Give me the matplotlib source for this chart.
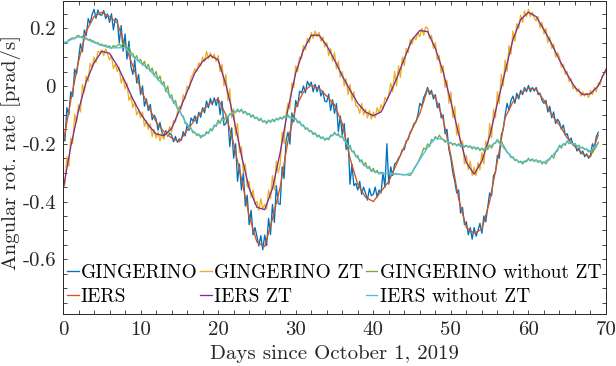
import numpy as np
import matplotlib
matplotlib.use("Agg")
import matplotlib.pyplot as plt

# IERS values, one per day (prad/s)
iers = [-0.20, -0.05, 0.085, 0.19, 0.24, 0.255, 0.24, 0.218, 0.14, 0.07,
        -0.01, -0.07, -0.124, -0.158, -0.18, -0.193, -0.153, -0.118, -0.085, -0.058,
        -0.045, -0.10, -0.20, -0.32, -0.45, -0.54, -0.556, -0.46, -0.35, -0.19,
        -0.075, -0.02, 0.003, -0.008, -0.035, -0.065, -0.13, -0.25, -0.34, -0.385,
        -0.40, -0.365, -0.33, -0.27, -0.21, -0.15, -0.095, -0.012, -0.04, -0.115,
        -0.24, -0.39, -0.49, -0.51, -0.495, -0.40, -0.26, -0.11, -0.055, -0.025,
        -0.008, -0.012, -0.05, -0.10, -0.135, -0.18, -0.21, -0.235, -0.245, -0.17]

iers_zt = [-0.36, -0.21, -0.085, 0.015, 0.08, 0.12, 0.113, 0.07, 0.015, -0.045,
           -0.095, -0.135, -0.166, -0.172, -0.147, -0.085, -0.02, 0.045, 0.085, 0.106,
           0.09, 0.005, -0.11, -0.24, -0.355, -0.42, -0.428, -0.355, -0.23, -0.08,
           0.045, 0.125, 0.175, 0.176, 0.14, 0.09, 0.035, -0.014, -0.06, -0.09,
           -0.103, -0.09, -0.035, 0.025, 0.095, 0.16, 0.192, 0.188, 0.13, 0.05,
           -0.055, -0.165, -0.265, -0.305, -0.26, -0.175, -0.06, 0.05, 0.16, 0.23,
           0.255, 0.24, 0.195, 0.145, 0.09, 0.04, -0.005, -0.03, -0.027, 0.0, 0.058]

iers_no_zt = [0.145, 0.16, 0.17, 0.162, 0.15, 0.14, 0.132, 0.132, 0.133, 0.102,
              0.08, 0.06, 0.03, 0.0, -0.045, -0.085, -0.135, -0.163, -0.175, -0.155,
              -0.128, -0.11, -0.09, -0.085, -0.098, -0.112, -0.124, -0.12, -0.112, -0.107,
              -0.115, -0.14, -0.158, -0.175, -0.185, -0.165, -0.178, -0.215, -0.25, -0.278,
              -0.295, -0.303, -0.303, -0.305, -0.308, -0.30, -0.255, -0.213, -0.18, -0.185,
              -0.198, -0.205, -0.208, -0.213, -0.22, -0.21, -0.19, -0.22, -0.25, -0.265,
              -0.255, -0.258, -0.265, -0.245, -0.21, -0.195, -0.203, -0.215, -0.225, -0.197]

# GINGERINO values, four per day (prad/s)
gingerino = [
    -0.18, -0.19, -0.075, -0.10,
    -0.02, -0.036, 0.058, 0.041,
    0.095, 0.146, 0.118, 0.194,
    0.175, 0.233, 0.215, 0.248,
    0.265, 0.234, 0.263, 0.246,
    0.245, 0.261, 0.233, 0.249,
    0.22, 0.25, 0.194, 0.234,
    0.228, 0.149, 0.209, 0.12,
    0.18, 0.093, 0.155, 0.068,
    0.04, 0.09, 0.01, 0.04,
    -0.03, 0.0, -0.07, -0.045,
    -0.085, -0.064, -0.117, -0.101,
    -0.114, -0.153, -0.126, -0.16,
    -0.173, -0.154, -0.174, -0.163,
    -0.17, -0.193, -0.175, -0.195,
    -0.183, -0.188, -0.158, -0.173,
    -0.133, -0.154, -0.111, -0.122,
    -0.103, -0.13, -0.091, -0.108,
    -0.075, -0.093, -0.052, -0.075,
    -0.043, -0.065, -0.041, -0.068,
    -0.04, -0.099, -0.053, -0.136,
    -0.13, -0.105, -0.21, -0.145,
    -0.25, -0.20, -0.33, -0.27,
    -0.36, -0.30, -0.415, -0.378,
    -0.48, -0.43, -0.515, -0.49,
    -0.52, -0.554, -0.518, -0.567,
    -0.516, -0.552, -0.458, -0.514,
    -0.41, -0.472, -0.345, -0.407,
    -0.41, -0.28, -0.32, -0.19,
    -0.16, -0.201, -0.093, -0.124,
    -0.05, -0.071, -0.018, -0.024,
    0.0, -0.024, 0.016, 0.002,
    0.013, -0.02, 0.006, -0.02,
    0.002, -0.035, -0.017, -0.053,
    -0.055, -0.028, -0.085, -0.048,
    -0.095, -0.061, -0.158, -0.104,
    -0.17, -0.13, -0.22, -0.18,
    -0.34, -0.272, -0.345, -0.337,
    -0.36, -0.33, -0.375, -0.35,
    -0.37, -0.395, -0.355, -0.38,
    -0.375, -0.35, -0.385, -0.36,
    -0.37, -0.30, -0.35, -0.20,
    -0.34, -0.28, -0.31, -0.27,
    -0.265, -0.25, -0.24, -0.22,
    -0.22, -0.19, -0.185, -0.16,
    -0.15, -0.13, -0.125, -0.10,
    -0.06, -0.07, -0.04, -0.025,
    -0.005, -0.03, -0.015, -0.045,
    -0.03, -0.075, -0.06, -0.11,
    -0.10, -0.165, -0.15, -0.22,
    -0.25, -0.30, -0.33, -0.37,
    -0.36, -0.44, -0.42, -0.48,
    -0.47, -0.515, -0.49, -0.53,
    -0.49, -0.52, -0.50, -0.475,
    -0.51, -0.45, -0.47, -0.42,
    -0.37, -0.38, -0.31, -0.30,
    -0.24, -0.25, -0.17, -0.15,
    -0.10, -0.06, -0.085, -0.05,
    -0.035, -0.06, -0.025, -0.045,
    -0.015, -0.03, -0.005, -0.02,
    0.002, -0.02, -0.005, -0.018,
    -0.005, -0.03, -0.025, -0.05,
    -0.06, -0.05, -0.09, -0.07,
    -0.11, -0.09, -0.13, -0.115,
    -0.125, -0.15, -0.135, -0.17,
    -0.165, -0.19, -0.18, -0.205,
    -0.20, -0.225, -0.215, -0.235,
    -0.225, -0.245, -0.235, -0.25,
    -0.24, -0.20, -0.215, -0.175,
    -0.16,
]

gingerino_zt = [
    -0.35, -0.342, -0.245, -0.278,
    -0.18, -0.199, -0.098, -0.126,
    -0.065, -0.09, 0.005, -0.02,
    0.035, 0.016, 0.078, 0.064,
    0.10, 0.08, 0.12, 0.115,
    0.125, 0.105, 0.128, 0.11,
    0.09, 0.105, 0.06, 0.075,
    0.05, 0.065, 0.01, 0.03,
    -0.01, 0.01, -0.05, -0.035,
    -0.075, -0.055, -0.10, -0.085,
    -0.11, -0.09, -0.14, -0.12,
    -0.15, -0.13, -0.175, -0.15,
    -0.18, -0.16, -0.19, -0.165,
    -0.185, -0.16, -0.17, -0.14,
    -0.16, -0.12, -0.125, -0.09,
    -0.07, -0.08, -0.03, -0.045,
    0.0, -0.01, 0.03, 0.04,
    0.06, 0.05, 0.08, 0.07,
    0.10, 0.085, 0.12, 0.095,
    0.115, 0.095, 0.11, 0.085,
    0.105, 0.05, 0.075, 0.0,
    0.04, -0.05, -0.01, -0.11,
    -0.08, -0.17, -0.13, -0.23,
    -0.21, -0.30, -0.27, -0.35,
    -0.33, -0.385, -0.36, -0.41,
    -0.40, -0.43, -0.39, -0.425,
    -0.41, -0.425, -0.36, -0.39,
    -0.31, -0.36, -0.26, -0.30,
    -0.27, -0.16, -0.20, -0.10,
    -0.06, -0.08, 0.01, -0.005,
    0.07, 0.05, 0.10, 0.095,
    0.14, 0.125, 0.165, 0.15,
    0.185, 0.165, 0.19, 0.17,
    0.185, 0.155, 0.17, 0.135,
    0.15, 0.105, 0.13, 0.085,
    0.115, 0.06, 0.085, 0.03,
    0.05, 0.0, 0.025, -0.03,
    0.005, -0.05, -0.02, -0.07,
    -0.07, -0.095, -0.06, -0.10,
    -0.08, -0.11, -0.085, -0.115,
    -0.09, -0.11, -0.075, -0.095,
    -0.065, -0.08, -0.04, -0.05,
    -0.03, 0.01, -0.02, 0.05,
    0.0, 0.07, 0.03, 0.10,
    0.07, 0.13, 0.115, 0.16,
    0.145, 0.17, 0.16, 0.185,
    0.17, 0.20, 0.175, 0.205,
    0.20, 0.165, 0.175, 0.13,
    0.15, 0.09, 0.105, 0.045,
    0.07, -0.005, 0.02, -0.06,
    -0.02, -0.11, -0.07, -0.17,
    -0.13, -0.21, -0.19, -0.27,
    -0.24, -0.29, -0.26, -0.31,
    -0.28, -0.31, -0.265, -0.29,
    -0.23, -0.27, -0.19, -0.22,
    -0.13, -0.18, -0.08, -0.11,
    -0.02, -0.06, 0.04, 0.0,
    0.09, 0.05, 0.14, 0.11,
    0.19, 0.155, 0.215, 0.20,
    0.245, 0.22, 0.26, 0.24,
    0.265, 0.24, 0.255, 0.235,
    0.225, 0.24, 0.20, 0.22,
    0.18, 0.20, 0.15, 0.17,
    0.13, 0.145, 0.10, 0.115,
    0.10, 0.065, 0.075, 0.04,
    0.05, 0.015, 0.025, -0.01,
    0.0, -0.02, -0.01, -0.035,
    -0.02, -0.035, -0.025, -0.04,
    -0.015, -0.03, -0.005, -0.02,
    0.01, 0.005, 0.035, 0.04,
    0.055,
]

gingerino_no_zt = [
    0.148, 0.152, 0.15, 0.16,
    0.163, 0.167, 0.163, 0.172,
    0.175, 0.168, 0.172, 0.165,
    0.166, 0.16, 0.161, 0.156,
    0.155, 0.148, 0.15, 0.142,
    0.145, 0.139, 0.142, 0.136,
    0.138, 0.13, 0.14, 0.135,
    0.14, 0.145, 0.137, 0.148,
    0.14, 0.128, 0.135, 0.115,
    0.112, 0.095, 0.105, 0.084,
    0.092, 0.072, 0.085, 0.06,
    0.075, 0.05, 0.062, 0.035,
    0.05, 0.02, 0.035, 0.005,
    0.015, -0.02, 0.0, -0.04,
    -0.03, -0.06, -0.05, -0.08,
    -0.078, -0.10, -0.104, -0.13,
    -0.13, -0.148, -0.145, -0.162,
    -0.16, -0.172, -0.166, -0.18,
    -0.17, -0.172, -0.158, -0.165,
    -0.148, -0.155, -0.135, -0.14,
    -0.118, -0.13, -0.11, -0.12,
    -0.105, -0.11, -0.096, -0.10,
    -0.086, -0.092, -0.08, -0.09,
    -0.08, -0.095, -0.088, -0.10,
    -0.095, -0.108, -0.10, -0.113,
    -0.108, -0.12, -0.112, -0.125,
    -0.12, -0.13, -0.118, -0.126,
    -0.115, -0.124, -0.112, -0.118,
    -0.108, -0.115, -0.104, -0.11,
    -0.10, -0.11, -0.105, -0.116,
    -0.112, -0.128, -0.122, -0.138,
    -0.135, -0.15, -0.145, -0.158,
    -0.155, -0.168, -0.162, -0.176,
    -0.17, -0.182, -0.176, -0.188,
    -0.18, -0.186, -0.17, -0.172,
    -0.16, -0.17, -0.165, -0.178,
    -0.172, -0.19, -0.19, -0.21,
    -0.205, -0.228, -0.225, -0.245,
    -0.24, -0.262, -0.255, -0.275,
    -0.265, -0.285, -0.278, -0.296,
    -0.285, -0.30, -0.292, -0.305,
    -0.298, -0.305, -0.303, -0.303,
    -0.303, -0.303, -0.304, -0.304,
    -0.305, -0.305, -0.306, -0.306,
    -0.307, -0.307, -0.308, -0.31,
    -0.30, -0.285, -0.275, -0.265,
    -0.25, -0.235, -0.215, -0.22,
    -0.20, -0.21, -0.185, -0.19,
    -0.175, -0.185, -0.17, -0.18,
    -0.185, -0.195, -0.188, -0.20,
    -0.195, -0.205, -0.198, -0.208,
    -0.20, -0.21, -0.203, -0.212,
    -0.205, -0.213, -0.207, -0.218,
    -0.21, -0.22, -0.212, -0.224,
    -0.215, -0.225, -0.216, -0.22,
    -0.205, -0.215, -0.20, -0.198,
    -0.185, -0.195, -0.19, -0.205,
    -0.215, -0.23, -0.235, -0.248,
    -0.245, -0.258, -0.255, -0.265,
    -0.26, -0.27, -0.262, -0.262,
    -0.25, -0.26, -0.252, -0.262,
    -0.255, -0.265, -0.258, -0.27,
    -0.262, -0.27, -0.258, -0.255,
    -0.24, -0.25, -0.23, -0.225,
    -0.205, -0.215, -0.20, -0.205,
    -0.19, -0.20, -0.195, -0.202,
    -0.20, -0.21, -0.205, -0.215,
    -0.212, -0.22, -0.218, -0.228,
    -0.222, -0.232, -0.22, -0.21,
    -0.195,
]

# matlab default colour order
c_blue = '#0072BD'
c_orange = '#D95319'
c_yellow = '#EDB120'
c_purple = '#7E2F8E'
c_green = '#77AC30'
c_cyan = '#4DBEEE'

plt.rcParams['font.family'] = 'serif'
plt.rcParams['font.serif'] = ['cmr10', 'DejaVu Serif']
plt.rcParams['mathtext.fontset'] = 'cm'
plt.rcParams['axes.unicode_minus'] = False
plt.rcParams['font.size'] = 15

fig = plt.figure(figsize=(6.16, 3.66), dpi=100)
ax = fig.add_axes([63 / 616, 1 - 313.7 / 366, 543 / 616, 312.7 / 366])

day_1 = np.arange(len(iers))
day_zt = np.arange(len(iers_zt))
day_no = np.arange(len(iers_no_zt))
day_g = np.arange(len(gingerino)) * 0.25
day_gzt = np.arange(len(gingerino_zt)) * 0.25
day_gno = np.arange(len(gingerino_no_zt)) * 0.25

lw = 0.95
h1, = ax.plot(day_g, gingerino, color=c_blue, lw=lw, label='GINGERINO')
h2, = ax.plot(day_1, iers, color=c_orange, lw=lw, label='IERS')
h3, = ax.plot(day_gzt, gingerino_zt, color=c_yellow, lw=lw, label='GINGERINO ZT')
h4, = ax.plot(day_zt, iers_zt, color=c_purple, lw=lw, label='IERS ZT')
h5, = ax.plot(day_gno, gingerino_no_zt, color=c_green, lw=lw, label='GINGERINO without ZT')
h6, = ax.plot(day_no, iers_no_zt, color=c_cyan, lw=lw, label='IERS without ZT')

ax.set_xlim(0, 70)
ax.set_ylim(-0.788, 0.294)
ax.set_xticks(np.arange(0, 71, 10))
ax.set_xticks(np.arange(0, 71, 2), minor=True)
ax.set_xticklabels([str(t) for t in range(0, 71, 10)])
yt = [-0.6, -0.4, -0.2, 0, 0.2]
ax.set_yticks(yt)
ax.set_yticklabels(['-0.6', '-0.4', '-0.2', '0', '0.2'])
ax.set_yticks(np.arange(-0.75, 0.29, 0.05), minor=True)

dark = '#262626'
ax.tick_params(which='both', direction='in', top=True, right=True,
               length=3, width=0.6, color=dark, labelcolor=dark)
ax.tick_params(axis='x', pad=5)
ax.tick_params(axis='y', pad=5)
for s in ax.spines.values():
    s.set_color(dark)
    s.set_linewidth(0.7)

ax.set_xlabel('Days since October 1, 2019', color=dark)
ax.set_ylabel('Angular rot. rate [prad/s]', color=dark)
ax.xaxis.set_label_coords(0.5, -0.1)
ax.yaxis.set_label_coords(-0.078, 0.515)

# legend rows like matlab (3 columns, filled row by row)
ax.legend([h1, h2, h3, h4, h5, h6],
          ['GINGERINO', 'IERS', 'GINGERINO ZT', 'IERS ZT',
           'GINGERINO without ZT', 'IERS without ZT'],
          ncol=3, loc='lower left', bbox_to_anchor=(0.0, 0.012), fontsize=14,
          frameon=False, handlelength=0.6, handletextpad=0.12,
          columnspacing=0.12, labelspacing=0.3, borderaxespad=0, borderpad=0.2)

fig.savefig('out.png', dpi=100)
